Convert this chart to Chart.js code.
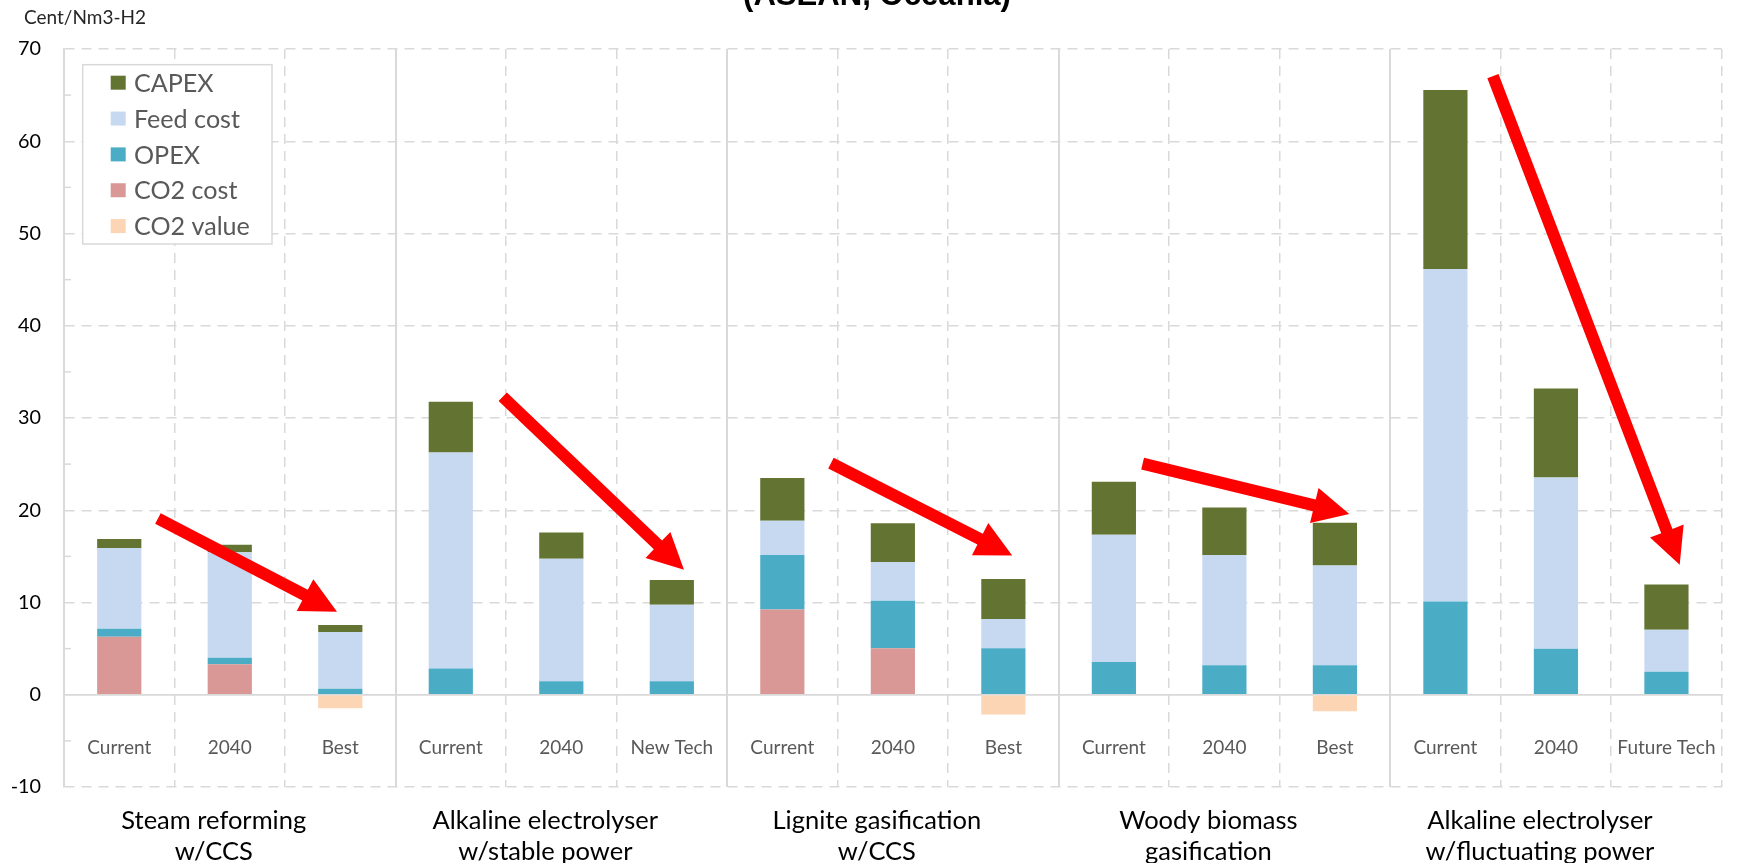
<!DOCTYPE html>
<html><head><meta charset="utf-8">
<style>html,body{margin:0;padding:0;background:#fff;overflow:hidden}#wrap{width:1758px;height:863px}</style>
<script src="https://cdn.jsdelivr.net/npm/chart.js@4.4.1/dist/chart.umd.min.js"></script>
</head><body><div id="wrap"><canvas id="c" width="1758" height="863"></canvas></div>
<script>
// ---- data ----
const groups = [['Steam reforming','w/CCS'],['Alkaline electrolyser','w/stable power'],['Lignite gasification','w/CCS'],['Woody biomass','gasification'],['Alkaline electrolyser','w/fluctuating power']];
const categories = ['Current','2040','Best','Current','2040','New Tech','Current','2040','Best','Current','2040','Best','Current','2040','Future Tech'];
const capex    = [0.97, 0.8, 0.75,  5.5, 2.85, 2.7,  4.65, 4.2, 4.35,  5.75, 5.15, 4.65,  19.4, 9.65, 4.9];
const feedCost = [8.75, 11.45, 6.15, 23.4, 13.3, 8.3,  3.7, 4.2, 3.15,  13.8, 11.95, 10.8,  36.05, 18.55, 4.55];
const opex     = [0.85, 0.7, 0.65,  2.85, 1.45, 1.45,  5.9, 5.15, 5.05,  3.55, 3.2, 3.2,  10.1, 5.0, 2.5];
const co2Cost  = [6.3, 3.3, null,  null, null, null,  9.25, 5.05, null,  null, null, null,  null, null, null];
const co2Value = [null, null, -1.45,  null, null, null,  null, null, -2.15,  null, null, -1.8,  null, null, null];
const yMin = -10, yMax = 70, yStep = 10;
const chartTitle = '(ASEAN, Oceania)';
const unitLabel = 'Cent/Nm3-H2';
// arrows in data space: [category index, value]
const arrows = [
  {from:[0.35,19.1],  to:[1.97,9.0]},
  {from:[3.47,32.3],  to:[5.11,13.55]},
  {from:[6.44,25.1],  to:[8.08,15.1]},
  {from:[9.26,25.05], to:[11.13,19.6]},
  {from:[12.43,67.05],to:[14.12,14.1]}
];

// ---- styles ----
const FAM = 'Lato';
const mctx = document.createElement('canvas').getContext('2d');
function fit(text, w, fam, weight) {
  mctx.font = (weight||'normal') + ' 100px ' + fam;
  return 100 * w / mctx.measureText(text).width;
}
const catSize = fit('Current', 64, FAM);
const grpSize = fit('Steam reforming', 185, FAM);
const legSize = fit('Feed cost', 106, FAM);
const ySize = fit('70', 23, FAM);
const unitSize = fit(unitLabel, 122, FAM);
const titleSize = fit(chartTitle, 268, '"Liberation Sans"', 'bold');
const GRID = '#d9d9d9';
const DASH = [10, 7];

Chart.defaults.font.family = FAM;

const legendPlugin = {
  id: 'boxLegend',
  afterDraw(chart) {
    const {ctx, chartArea} = chart;
    const x0 = chartArea.left + 18.7, y0 = chartArea.top + 15.7, w = 189.3, h = 179.3;
    ctx.save();
    ctx.fillStyle = '#fff'; ctx.fillRect(x0, y0, w, h);
    ctx.strokeStyle = GRID; ctx.lineWidth = 1.5; ctx.strokeRect(x0, y0, w, h);
    ctx.font = legSize + 'px ' + FAM;
    ctx.textBaseline = 'middle'; ctx.textAlign = 'left';
    chart.data.datasets.slice().reverse().forEach((ds, i) => {
      const cy = y0 + 18 + i * 35.85;
      ctx.fillStyle = ds.backgroundColor;
      ctx.fillRect(x0 + 28, cy - 7, 15, 14);
      ctx.fillStyle = '#595959';
      ctx.fillText(ds.label, x0 + 51.3, cy + 1);
    });
    ctx.restore();
  }
};

const decorPlugin = {
  id: 'decor',
  beforeDatasetsDraw(chart) {
    const {ctx, chartArea, scales} = chart;
    ctx.save();
    ctx.strokeStyle = GRID; ctx.lineWidth = 1.5;
    for (let v = yMin + yStep / 2; v < yMax; v += yStep) {
      const py = scales.y.getPixelForValue(v);
      ctx.beginPath(); ctx.moveTo(chartArea.left, py); ctx.lineTo(chartArea.left + 7, py); ctx.stroke();
    }
    ctx.restore();
  },
  afterDatasetsDraw(chart) {
    const {ctx, scales} = chart;
    ctx.save();
    ctx.fillStyle = '#ff0000';
    const shaft = 12, headLen = 36, headHalf = 18;
    arrows.forEach(a => {
      const x1 = scales.x.getPixelForValue(a.from[0]), y1 = scales.y.getPixelForValue(a.from[1]);
      const x2 = scales.x.getPixelForValue(a.to[0]), y2 = scales.y.getPixelForValue(a.to[1]);
      const L = Math.hypot(x2 - x1, y2 - y1), ux = (x2 - x1) / L, uy = (y2 - y1) / L;
      const px = -uy, py = ux;
      const bx = x2 - ux * headLen, by = y2 - uy * headLen;
      ctx.beginPath();
      ctx.moveTo(x1 + px * shaft / 2, y1 + py * shaft / 2);
      ctx.lineTo(bx + px * shaft / 2, by + py * shaft / 2);
      ctx.lineTo(bx + px * headHalf, by + py * headHalf);
      ctx.lineTo(x2, y2);
      ctx.lineTo(bx - px * headHalf, by - py * headHalf);
      ctx.lineTo(bx - px * shaft / 2, by - py * shaft / 2);
      ctx.lineTo(x1 - px * shaft / 2, y1 - py * shaft / 2);
      ctx.closePath();
      ctx.fill();
    });
    ctx.restore();
  },
  afterDraw(chart) {
    const ctx = chart.ctx;
    ctx.save();
    ctx.font = unitSize + 'px ' + FAM;
    ctx.fillStyle = '#262626'; ctx.textAlign = 'left'; ctx.textBaseline = 'alphabetic';
    ctx.fillText(unitLabel, 24, 24);
    ctx.restore();
  }
};

const catLH = catSize * 1.2;
const tLH = titleSize * 1.2;
const tTop = 7 - 0.35 * titleSize - tLH / 2;

new Chart(document.getElementById('c'), {
  type: 'bar',
  data: {
    labels: categories,
    datasets: [
      {label: 'CO2 value', data: co2Value, backgroundColor: '#fcd5b4'},
      {label: 'CO2 cost',  data: co2Cost,  backgroundColor: '#d99795'},
      {label: 'OPEX',      data: opex,     backgroundColor: '#4bacc6'},
      {label: 'Feed cost', data: feedCost, backgroundColor: '#c6d9f1'},
      {label: 'CAPEX',     data: capex,    backgroundColor: '#637432'}
    ]
  },
  options: {
    responsive: false, animation: false, devicePixelRatio: 1,
    layout: {padding: {left: 0, right: 4, top: 0, bottom: 0}},
    datasets: {bar: {barPercentage: 0.4, categoryPercentage: 1.0, borderWidth: 0}},
    plugins: {
      legend: {display: false},
      tooltip: {enabled: false},
      title: {display: true, text: chartTitle, color: '#000',
        font: {family: 'Liberation Sans', weight: 'bold', size: titleSize, lineHeight: 1.2},
        padding: {top: tTop, bottom: 49 - tLH - tTop}}
    },
    scales: {
      x: {
        stacked: true, position: {y: 0}, offset: true,
        grid: {offset: true, drawTicks: false, color: GRID,
          lineWidth: c => (c.index % 3 === 0) ? 2 : 1.5},
        border: {display: true, color: GRID, width: 1.5,
          dash: c => (c.index % 3 === 0) ? [] : DASH},
        ticks: {color: '#595959', font: {size: catSize, lineHeight: 1.2},
          padding: 52.7 - catLH / 2, autoSkip: false, maxRotation: 0}
      },
      x2: {
        type: 'category', labels: groups, position: 'bottom', offset: true,
        grid: {display: false, drawTicks: false}, border: {display: false},
        ticks: {color: '#000', font: {size: grpSize, lineHeight: '31px'},
          padding: 18.5, labelOffset: -16, autoSkip: false, maxRotation: 0},
        afterFit: s => { s.height = 76; }
      },
      y: {
        stacked: true, min: yMin, max: yMax,
        ticks: {stepSize: yStep, color: '#000', font: {size: ySize}, padding: 23},
        grid: {color: GRID, lineWidth: 1.5, drawTicks: false},
        border: {display: true, color: GRID, width: 1.5,
          dash: c => (c.tick && c.tick.value === 0) ? [] : DASH},
        afterFit: s => { s.width = 64; }
      }
    }
  },
  plugins: [legendPlugin, decorPlugin]
});
</script>
</body></html>
